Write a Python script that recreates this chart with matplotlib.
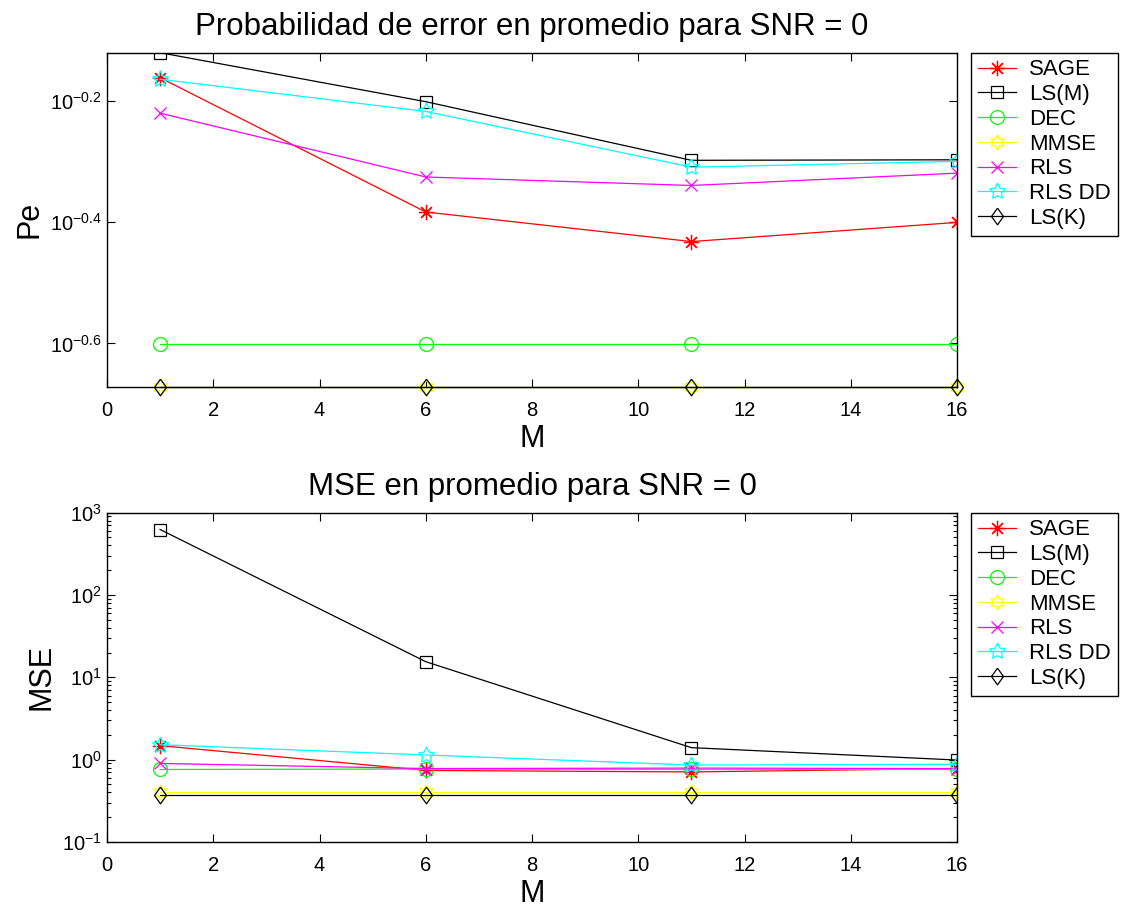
"""
Pe and MSE averaged over runs for SNR = 0, versus M (MATLAB-style figure).
"""

import matplotlib
matplotlib.use("Agg")
import matplotlib.pyplot as plt
from matplotlib.ticker import FixedLocator, NullLocator, LogLocator

plt.rcParams["font.family"] = ["Liberation Sans", "DejaVu Sans"]
plt.rcParams["mathtext.fontset"] = "custom"
plt.rcParams["mathtext.rm"] = "Liberation Sans"
plt.rcParams["mathtext.it"] = "Liberation Sans"
plt.rcParams["mathtext.default"] = "regular"

M = [1, 6, 11, 16]
LABELS = ["SAGE", "LS(M)", "DEC", "MMSE", "RLS", "RLS DD", "LS(K)"]

# probability of error
pe_sage = [0.690, 0.414, 0.370, 0.398]
pe_lsm = [0.759, 0.630, 0.504, 0.505]
pe_dec = [0.251, 0.251, 0.251, 0.251]
pe_mmse = [0.213, 0.213, 0.213, 0.213]
pe_rls = [0.603, 0.473, 0.458, 0.480]
pe_rlsdd = [0.686, 0.607, 0.491, 0.502]
pe_lsk = [0.213, 0.213, 0.213, 0.213]

# mean squared error
mse_sage = [1.48, 0.74, 0.71, 0.78]
mse_lsm = [625.0, 15.5, 1.40, 0.99]
mse_dec = [0.76, 0.77, 0.76, 0.76]
mse_mmse = [0.41, 0.41, 0.41, 0.41]
mse_rls = [0.90, 0.78, 0.79, 0.78]
mse_rlsdd = [1.52, 1.14, 0.86, 0.88]
mse_lsk = [0.37, 0.37, 0.37, 0.37]

DIAMOND = [(0, 1), (0.72, 0), (0, -1), (-0.72, 0), (0, 1)]
STYLES = [
    dict(color="#ff0000", marker=(8, 2, 0), ms=11),
    dict(color="black", marker="s", ms=8, mfc="none"),
    dict(color="#00ff00", marker="o", ms=10, mfc="none"),
    dict(color="#ffff00", marker=(6, 1, 0), ms=11, mfc="none"),
    dict(color="#ff00ff", marker="x", ms=9),
    dict(color="#00ffff", marker=(5, 1, 0), ms=12, mfc="none"),
    dict(color="black", marker=DIAMOND, ms=12, mfc="none"),
]

FS_TICK = 14.5
FS_LEGEND = 16
FS_LABEL = 22
FS_TITLE = 22.5


def draw_panel(ax, series, title, ylabel, unclipped=()):
    for i, (vals, label, st) in enumerate(zip(series, LABELS, STYLES)):
        ax.plot(M, vals, label=label, linewidth=0.9, markeredgewidth=0.9,
                clip_on=(i not in unclipped), **st)
    ax.set_yscale("log")
    ax.set_xlim(0, 16)
    ax.set_xticks(range(0, 17, 2))
    ax.set_title(title, fontsize=FS_TITLE, pad=13)
    ax.set_xlabel("M", fontsize=FS_LABEL, labelpad=3)
    ax.set_ylabel(ylabel, fontsize=FS_LABEL, labelpad=4)
    ax.tick_params(which="both", direction="in", top=True, right=True,
                   labelsize=FS_TICK, width=0.8)
    ax.tick_params(which="major", length=6)
    ax.tick_params(which="minor", length=3)
    ax.tick_params(axis="x", pad=10)
    for s in ax.spines.values():
        s.set_linewidth(1.0)
    leg = ax.legend(loc="upper left", bbox_to_anchor=(1.017, 1.0),
                    borderaxespad=0, fontsize=FS_LEGEND, fancybox=False,
                    edgecolor="black", framealpha=1, handlelength=1.7,
                    handletextpad=0.6, labelspacing=0.17, borderpad=0.3)
    leg.get_frame().set_linewidth(1.0)


fig = plt.figure(figsize=(11.26, 9.11), dpi=100)
W, H = 1126, 911
ax1 = fig.add_axes([107 / W, 1 - 386.7 / H, 850 / W, (386.7 - 52.7) / H])
ax2 = fig.add_axes([107 / W, 1 - 842 / H, 850 / W, (842 - 512.7) / H])

draw_panel(ax1, [pe_sage, pe_lsm, pe_dec, pe_mmse, pe_rls, pe_rlsdd, pe_lsk],
           "Probabilidad de error en promedio para SNR = 0", "Pe",
           unclipped=(3, 6))
ax1.set_ylim(min(pe_lsk), max(pe_lsm))
ax1.yaxis.set_major_locator(FixedLocator([10 ** -0.6, 10 ** -0.4, 10 ** -0.2]))
ax1.yaxis.set_minor_locator(NullLocator())
ax1.set_yticklabels([r"$10^{-0.6}$", r"$10^{-0.4}$", r"$10^{-0.2}$"])

draw_panel(ax2, [mse_sage, mse_lsm, mse_dec, mse_mmse, mse_rls, mse_rlsdd, mse_lsk],
           "MSE en promedio para SNR = 0", "MSE")
ax2.set_ylim(0.1, 1000)
ax2.yaxis.set_major_locator(LogLocator(base=10))
ax2.yaxis.set_minor_locator(LogLocator(base=10, subs=range(2, 10)))

fig.savefig("out.png", dpi=100)
plt.close(fig)
